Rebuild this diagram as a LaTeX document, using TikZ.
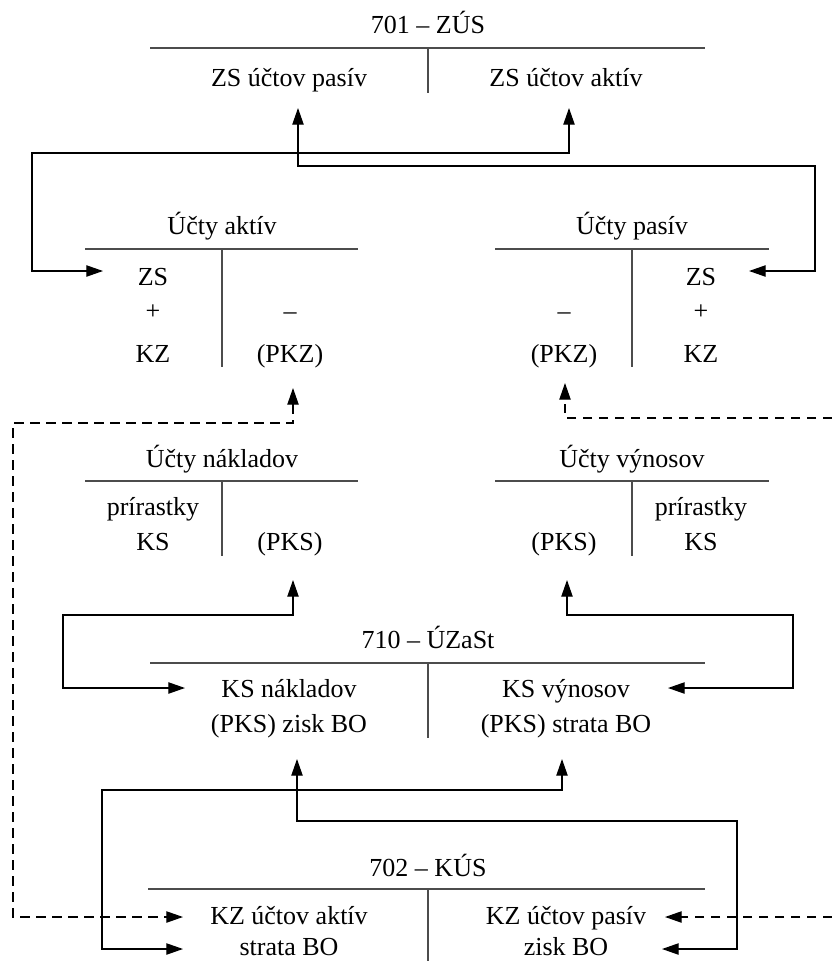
\documentclass[tikz,border=0pt]{standalone}
\usepackage{fontspec}
\setmainfont{Liberation Serif}
\usetikzlibrary{arrows.meta}
\begin{document}
\begin{tikzpicture}[x=0.75pt,y=-0.75pt,
  tl/.style={line width=1.1pt,draw=black!70},
  conn/.style={line width=0.9pt,draw=black},
  dconn/.style={conn,dash pattern=on 7pt off 5pt},
  tipend/.style={-{Triangle[length=12.5pt,width=8.5pt]}},
  bothends/.style={{Triangle[length=12.5pt,width=8.5pt]}-{Triangle[length=12.5pt,width=8.5pt]}},
  lab/.style={anchor=base,inner sep=0pt,font=\fontsize{19.5}{23}\selectfont}]
\useasboundingbox (0,0) rectangle (832,961);

% ---------- 701 - ZUS ----------
\node[lab] (t701) at (428,33) {701 – ZÚS};
\draw[tl] (150,48) -- (705,48);
\draw[tl] (428,48) -- (428,93);
\node[lab] (zsp) at (289,86) {ZS účtov pasív};
\node[lab] (zsa) at (566,86) {ZS účtov aktív};

% ---------- Ucty aktiv ----------
\node[lab] (ua) at (222,234) {Účty aktív};
\draw[tl] (85,249) -- (358,249);
\draw[tl] (222,249) -- (222,367);
\node[lab] (uaZS) at (153,285) {ZS};
\node[lab] (uaP) at (153,319) {+};
\node[lab] (uaKZ) at (153,362) {KZ};
\node[lab] (uaM) at (290,319) {–};
\node[lab] (uaPKZ) at (290,362) {(PKZ)};

% ---------- Ucty pasiv ----------
\node[lab] (up) at (632,234) {Účty pasív};
\draw[tl] (495,249) -- (769,249);
\draw[tl] (632,249) -- (632,367);
\node[lab] (upM) at (564,319) {–};
\node[lab] (upPKZ) at (564,362) {(PKZ)};
\node[lab] (upZS) at (701,285) {ZS};
\node[lab] (upP) at (701,319) {+};
\node[lab] (upKZ) at (701,362) {KZ};

% ---------- Ucty nakladov ----------
\node[lab] (un) at (222,467) {Účty nákladov};
\draw[tl] (85,481) -- (358,481);
\draw[tl] (222,481) -- (222,556);
\node[lab] (unPr) at (153,515) {prírastky};
\node[lab] (unKS) at (153,550) {KS};
\node[lab] (unPKS) at (290,550) {(PKS)};

% ---------- Ucty vynosov ----------
\node[lab] (uv) at (632,467) {Účty výnosov};
\draw[tl] (495,481) -- (769,481);
\draw[tl] (632,481) -- (632,556);
\node[lab] (uvPKS) at (564,550) {(PKS)};
\node[lab] (uvPr) at (701,515) {prírastky};
\node[lab] (uvKS) at (701,550) {KS};

% ---------- 710 - UZaSt ----------
\node[lab] (t710) at (428,648) {710 – ÚZaSt};
\draw[tl] (150,663) -- (705,663);
\draw[tl] (428,663) -- (428,738);
\node[lab] (ksn) at (289,697) {KS nákladov};
\node[lab] (pzb) at (289,732) {(PKS) zisk BO};
\node[lab] (ksv) at (566,697) {KS výnosov};
\node[lab] (psb) at (566,732) {(PKS) strata BO};

% ---------- 702 - KUS ----------
\node[lab] (t702) at (428,876) {702 – KÚS};
\draw[tl] (148,889) -- (705,889);
\draw[tl] (428,889) -- (428,961);
\node[lab] (kza) at (289,924) {KZ účtov aktív};
\node[lab] (sbo) at (289,955) {strata BO};
\node[lab] (kzp) at (566,924) {KZ účtov pasív};
\node[lab] (zbo) at (566,955) {zisk BO};

% ---------- arrow tip coordinates ----------
\coordinate (aZSin) at (103,271);
\coordinate (zsaIn) at (569,108);
\coordinate (pZSin) at (749,271);
\coordinate (zspIn) at (298,108);
\coordinate (aPKZin) at (293,388);
\coordinate (pPKZin) at (565,383);
\coordinate (kzaIn) at (183,917);
\coordinate (kzpIn) at (665,917);
\coordinate (edgeA) at (832,418);
\coordinate (edgeB) at (832,917);
\coordinate (nPKSin) at (293,580);
\coordinate (vPKSin) at (567,580);
\coordinate (ksnIn) at (185,688);
\coordinate (ksvIn) at (668,688);
\coordinate (pzbIn) at (297,759);
\coordinate (psbIn) at (562,759);
\coordinate (sboIn) at (183,949);
\coordinate (zboIn) at (662,949);

% ---------- connectors ----------
\draw[conn,bothends] (aZSin) -- (32,271) -- (32,153) -| (zsaIn);
\draw[conn,bothends] (pZSin) -- (815,271) -- (815,166) -| (zspIn);
\draw[dconn,bothends] (aPKZin) -- (293,423) -- (13,423) |- (kzaIn);
\draw[dconn,tipend] (edgeA) -| (pPKZin);
\draw[dconn,tipend] (edgeB) -- (kzpIn);
\draw[conn,bothends] (nPKSin) -- (293,615) -- (63,615) |- (ksnIn);
\draw[conn,bothends] (vPKSin) -- (567,615) -- (793,615) |- (ksvIn);
\draw[conn,bothends] (pzbIn) -- (297,821) -- (737,821) |- (zboIn);
\draw[conn,bothends] (psbIn) -- (562,790) -- (102,790) |- (sboIn);
\end{tikzpicture}
\end{document}
